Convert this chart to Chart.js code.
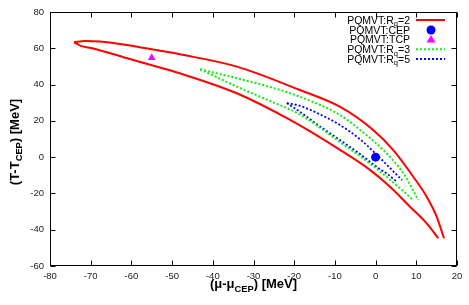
<!DOCTYPE html>
<html>
<head>
<meta charset="utf-8">
<script src="https://cdn.jsdelivr.net/npm/chart.js@4/dist/chart.umd.min.js"></script>
<style>
    body { margin: 0; background: #fff; }
    #wrap { width: 469px; height: 305px; }
</style>
</head>
<body>
<div id="wrap"><canvas id="chart" width="469" height="305"></canvas></div>
<script>
// Rq=2 contour, both branches start at the left tip
const rq2UpperMu = [-74.1, -71.4, -67.7, -61.2, -53.0, -48.1, -34.1, -18.6, -8.8, -0.6, 4.35, 9.26, 12.55, 15.0, 16.8];
const rq2UpperT  = [63.3, 64.0, 63.7, 61.8, 58.7, 56.7, 49.9, 37.0, 27.8, 15.0, 3.9, -10.8, -21.8, -32.8, -44.7];
const rq2LowerMu = [-74.1, -72.6, -69.4, -61.2, -53.0, -48.1, -34.1, -21.0, -8.75, -1.4, 3.54, 8.45, 12.55, 15.4];
const rq2LowerT  = [63.3, 61.5, 59.9, 54.6, 49.4, 46.2, 35.2, 20.5, 4.0, -7.0, -16.3, -27.3, -36.5, -44.7];

// Rq=3 contour
const rq3UpperMu = [-43.1, -34.1, -26.0, -18.6, -8.75, -3.8, 1.9, 6.8, 10.5];
const rq3UpperT  = [48.4, 43.5, 38.7, 33.3, 23.2, 15.0, 3.9, -8.9, -23.6];
const rq3LowerMu = [-43.1, -34.1, -26.0, -18.6, -8.75, -0.6, 6.0, 9.3];
const rq3LowerT  = [48.4, 38.9, 31.0, 23.5, 8.3, -4.9, -17.2, -23.8];

// Rq=5 contour
const rq5UpperMu = [-21.8, -18.6, -13.6, -8.75, -3.8, 1.1, 4.0, 6.5];
const rq5UpperT  = [29.8, 28.3, 23.5, 17.7, 9.8, -0.5, -7.0, -12.7];
const rq5LowerMu = [-21.8, -18.6, -13.6, -8.75, -4.0, 0.24, 3.0, 5.2];
const rq5LowerT  = [29.8, 25.0, 16.8, 9.4, 2.0, -5.3, -9.5, -13.5];

const cepPoint = [0, 0];
const tcpPoint = [-55, 54.8];

const xTicks = [-80, -70, -60, -50, -40, -30, -20, -10, 0, 10, 20];
const yTicks = [-60, -40, -20, 0, 20, 40, 60, 80];

const legendLabels = [
    ["PQMVT:R", "q", "=2"],
    ["PQMVT:CEP"],
    ["PQMVT:TCP"],
    ["PQMVT:R", "q", "=3"],
    ["PQMVT:R", "q", "=5"]
];

const RED = "#ff0000";
const GREEN = "#11ee11";
const BLUE = "#0000ff";
const MAGENTA = "#ff00ff";
const FONT = '"Liberation Sans", Arial, sans-serif';

function toPoints(xs, ys) {
    return xs.map((x, i) => ({ x: x, y: ys[i] }));
}

// draws [normal, sub, normal, ...] pieces, returns total width
function drawPieces(ctx, pieces, x, y, size, bold, measureOnly) {
    let w = 0;
    pieces.forEach((p, i) => {
        const isSub = i % 2 === 1;
        const fs = isSub ? size * 0.72 : size;
        ctx.font = (bold ? "bold " : "") + fs + "px " + FONT;
        if (!measureOnly) ctx.fillText(p, x + w, isSub ? y + size * 0.28 : y);
        w += ctx.measureText(p).width;
    });
    return w;
}

const framePlugin = {
    id: "frame",
    afterDraw(chart) {
        const ctx = chart.ctx;
        const a = chart.chartArea;
        const xs = chart.scales.x, ys = chart.scales.y;
        ctx.save();
        ctx.strokeStyle = "#000";
        ctx.lineWidth = 1;
        const l = Math.round(a.left) + 0.5, r = Math.round(a.right) - 0.5;
        const t = Math.round(a.top) + 0.5, b = Math.round(a.bottom) - 0.5;
        ctx.strokeRect(l, t, r - l, b - t);

        // inward ticks on all four sides
        ctx.beginPath();
        xTicks.forEach(v => {
            const px = Math.round(xs.getPixelForValue(v)) + 0.5;
            ctx.moveTo(px, b); ctx.lineTo(px, b - 5);
            ctx.moveTo(px, t); ctx.lineTo(px, t + 5);
        });
        yTicks.forEach(v => {
            const py = Math.round(ys.getPixelForValue(v)) + 0.5;
            ctx.moveTo(l, py); ctx.lineTo(l + 5, py);
            ctx.moveTo(r, py); ctx.lineTo(r - 5, py);
        });
        ctx.stroke();

        // axis titles
        ctx.fillStyle = "#000";
        ctx.textBaseline = "alphabetic";
        const xt = ["(\u03bc-\u03bc", "CEP", ") [MeV]"];
        const xw = drawPieces(ctx, xt, 0, 0, 13, true, true);
        drawPieces(ctx, xt, (a.left + a.right) / 2 - xw / 2, 288, 13, true);

        const yt = ["(T-T", "CEP", ") [MeV]"];
        const yw = drawPieces(ctx, yt, 0, 0, 13, true, true);
        ctx.save();
        ctx.translate(18.5, 142);
        ctx.rotate(-Math.PI / 2);
        drawPieces(ctx, yt, -yw / 2, 0, 13, true);
        ctx.restore();

        // legend
        const rowsY = [20, 30, 39.5, 49.3, 59];
        const textRight = 410;
        const x0 = 416, x1 = 445, xm = 431;
        legendLabels.forEach((lab, i) => {
            const w = drawPieces(ctx, lab, 0, 0, 10.5, false, true);
            drawPieces(ctx, lab, textRight - w, rowsY[i] + 3.5, 10.5, false);
        });
        ctx.lineWidth = 2;
        ctx.strokeStyle = RED;
        ctx.beginPath(); ctx.moveTo(x0, rowsY[0]); ctx.lineTo(x1, rowsY[0]); ctx.stroke();
        ctx.fillStyle = BLUE;
        ctx.beginPath(); ctx.arc(xm, rowsY[1], 4.5, 0, Math.PI * 2); ctx.fill();
        ctx.fillStyle = MAGENTA;
        ctx.beginPath();
        ctx.moveTo(xm, rowsY[2] - 4.5); ctx.lineTo(xm + 4.5, rowsY[2] + 3); ctx.lineTo(xm - 4.5, rowsY[2] + 3);
        ctx.closePath(); ctx.fill();
        ctx.setLineDash([2, 2]);
        ctx.strokeStyle = GREEN;
        ctx.beginPath(); ctx.moveTo(x0, rowsY[3]); ctx.lineTo(x1, rowsY[3]); ctx.stroke();
        ctx.strokeStyle = BLUE;
        ctx.beginPath(); ctx.moveTo(x0, rowsY[4]); ctx.lineTo(x1, rowsY[4]); ctx.stroke();
        ctx.restore();
    }
};

function curve(xs, ys, color, dashed, width) {
    return {
        data: toPoints(xs, ys),
        showLine: true,
        borderColor: color,
        borderWidth: width,
        borderDash: dashed ? [2, 2] : [],
        pointRadius: 0,
        cubicInterpolationMode: "monotone",
        fill: false
    };
}

new Chart(document.getElementById("chart").getContext("2d"), {
    type: "scatter",
    data: {
        datasets: [
            curve(rq3UpperMu, rq3UpperT, GREEN, true, 2),
            curve(rq3LowerMu, rq3LowerT, GREEN, true, 2),
            curve(rq5UpperMu, rq5UpperT, BLUE, true, 1.8),
            curve(rq5LowerMu, rq5LowerT, BLUE, true, 1.8),
            curve(rq2UpperMu, rq2UpperT, RED, false, 2),
            curve(rq2LowerMu, rq2LowerT, RED, false, 2),
            {
                data: [{ x: cepPoint[0], y: cepPoint[1] }],
                pointStyle: "circle",
                pointRadius: 4.5,
                backgroundColor: BLUE,
                borderColor: BLUE,
                borderWidth: 0
            },
            {
                data: [{ x: tcpPoint[0], y: tcpPoint[1] }],
                pointStyle: "triangle",
                pointRadius: 4.5,
                backgroundColor: MAGENTA,
                borderColor: MAGENTA,
                borderWidth: 0
            }
        ]
    },
    options: {
        responsive: false,
        animation: false,
        layout: { padding: { top: 12, right: 12, left: 0, bottom: 0 } },
        plugins: { legend: { display: false }, tooltip: { enabled: false } },
        scales: {
            x: {
                type: "linear",
                min: -80, max: 20,
                afterBuildTicks: s => { s.ticks = xTicks.map(v => ({ value: v })); },
                afterFit: s => { s.height = 39; },
                grid: { display: false, drawTicks: false },
                border: { display: false },
                ticks: { padding: 5, color: "#222", font: { family: FONT, size: 9.5 } }
            },
            y: {
                type: "linear",
                min: -60, max: 80,
                afterBuildTicks: s => { s.ticks = yTicks.map(v => ({ value: v })); },
                afterFit: s => { s.width = 50; },
                grid: { display: false, drawTicks: false },
                border: { display: false },
                ticks: { padding: 6, color: "#222", font: { family: FONT, size: 9.5 } }
            }
        }
    },
    plugins: [framePlugin]
});
</script>
</body>
</html>
